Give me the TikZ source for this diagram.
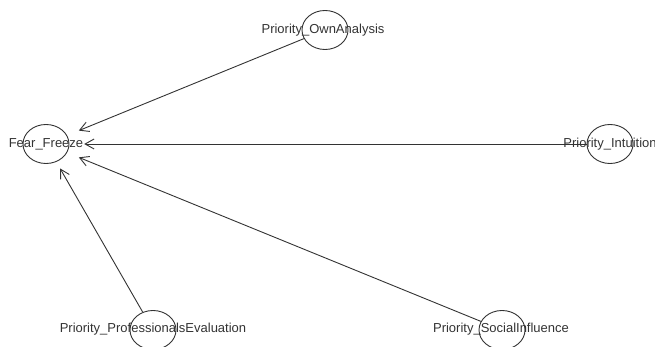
\documentclass[tikz,border=0pt]{standalone}
\usepackage{fontspec}
\setmainfont{Liberation Sans}
\usetikzlibrary{shapes.geometric,arrows.meta}
\begin{document}
\begin{tikzpicture}[x=1pt,y=-1pt,
  vtx/.style={draw=black!80,line width=0.9pt,ellipse,inner sep=0pt,minimum width=46pt,minimum height=39pt},
  lbl/.style={font=\fontsize{13}{13}\selectfont,text=black!80,inner sep=0pt},
  edge/.style={draw=black!80,line width=0.9pt,-{Straight Barb[length=9pt,width=10pt]}}]
\useasboundingbox (0,0) rectangle (655,347);
\node[vtx] (ff) at (46,144) {};
\node[vtx] (oa) at (325,30) {};
\node[vtx] (pi) at (610,144) {};
\node[vtx] (pe) at (153,330) {};
\node[vtx] (si) at (502,330) {};
\node[lbl] (lff) at (46,144) {Fear\_Freeze};
\node[lbl] (loa) at (323,30) {Priority\_OwnAnalysis};
\node[lbl] (lpi) at (610,144) {Priority\_Intuition};
\node[lbl] (lpe) at (153,329) {Priority\_ProfessionalsEvaluation};
\node[lbl] (lsi) at (501,329) {Priority\_SocialInfluence};
\node[ellipse,minimum width=76pt,minimum height=52pt,inner sep=0pt] (ffo) at (46,144) {};
\draw[edge] (oa) -- (ffo);
\draw[edge] (pi) -- (ffo);
\draw[edge] (pe) -- (ffo);
\draw[edge] (si) -- (ffo);
\end{tikzpicture}
\end{document}
